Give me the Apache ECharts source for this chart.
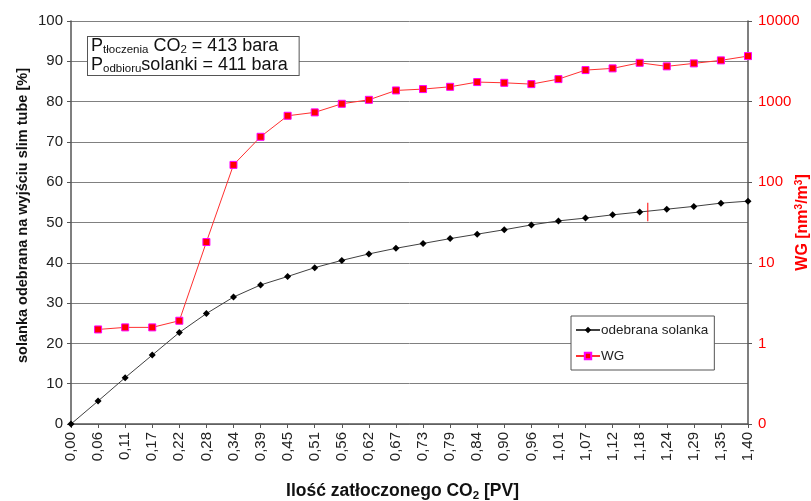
<!DOCTYPE html>
<html>
<head>
<meta charset="utf-8">
<script src="https://cdn.jsdelivr.net/npm/echarts@6/dist/echarts.min.js"></script>
<style>
html,body{margin:0;padding:0;background:#fff;}
#chart{width:811px;height:501px;}
</style>
</head>
<body>
<div id="chart"></div>
<script>
var categories = ['0,00','0,06','0,11','0,17','0,22','0,28','0,34','0,39','0,45','0,51','0,56','0,62','0,67','0,73','0,79','0,84','0,90','0,96','1,01','1,07','1,12','1,18','1,24','1,29','1,35','1,40'];
var solanka = [0, 5.7, 11.5, 17.1, 22.7, 27.4, 31.5, 34.5, 36.6, 38.8, 40.6, 42.2, 43.6, 44.8, 46.0, 47.1, 48.2, 49.4, 50.4, 51.1, 51.9, 52.6, 53.3, 54.0, 54.8, 55.3];
var wg = [null, 1.49, 1.58, 1.58, 1.91, 18.1, 164, 366, 667, 735, 940, 1052, 1375, 1430, 1527, 1747, 1711, 1648, 1901, 2460, 2583, 3030, 2737, 2980, 3247, 3670];
var redMarkX = 21.3;
var redMarkY = [50.3, 54.9];
var leftTicks = {min: 0, max: 100, interval: 10};
var rightTicks = {min: 0.1, max: 10000};

var font = 'Liberation Sans, Arial, sans-serif';
var chart = echarts.init(document.getElementById('chart'), null, {renderer: 'canvas'});
chart.setOption({
  animation: false,
  backgroundColor: '#fff',
  textStyle: {fontFamily: font},
  grid: {left: 71, right: 63, top: 21, bottom: 77, containLabel: false, outerBoundsMode: 'none'},
  xAxis: [{
    type: 'category',
    data: categories,
    boundaryGap: false,
    axisLine: {lineStyle: {color: '#555', width: 1.5}},
    axisTick: {show: true, length: 4, lineStyle: {color: '#555'}, alignWithLabel: true},
    axisLabel: {rotate: 90, fontSize: 15, color: '#222', margin: 8, fontFamily: font},
    splitLine: {show: false},
    name: '{a|Ilość zatłoczonego CO}{s|2}{a| [PV]}',
    nameLocation: 'middle',
    nameGap: 57,
    nameMoveOverlap: false,
    nameTextStyle: {
      padding: [0, 14, 0, 0],
      rich: {
        a: {fontSize: 17.5, fontWeight: 'bold', color: '#111', fontFamily: font},
        s: {fontSize: 11.5, fontWeight: 'bold', color: '#111', fontFamily: font, verticalAlign: 'bottom', padding: [9,0,0,0]}
      }
    }
  }, {
    type: 'value', min: 0, max: 25, show: false
  }],
  yAxis: [{
    type: 'value',
    min: leftTicks.min, max: leftTicks.max, interval: leftTicks.interval,
    axisLine: {show: true, lineStyle: {color: '#555', width: 1.5}},
    axisTick: {show: true, length: 4, lineStyle: {color: '#555'}},
    axisLabel: {fontSize: 15, color: '#222', margin: 8, fontFamily: font},
    splitLine: {show: true, lineStyle: {color: '#808080', width: 1}},
    name: 'solanka odebrana na wyjściu slim tube [%]',
    nameLocation: 'middle',
    nameGap: 41,
    nameMoveOverlap: false,
    nameTextStyle: {fontSize: 14.5, fontWeight: 'bold', color: '#111', fontFamily: font, padding: [0, 0, 0, 14]}
  }, {
    type: 'log',
    logBase: 10,
    min: rightTicks.min, max: rightTicks.max,
    position: 'right',
    axisLine: {show: true, lineStyle: {color: '#555', width: 1.5}},
    axisTick: {show: true, length: 4, lineStyle: {color: '#555'}},
    axisLabel: {fontSize: 15, color: '#ff0000', margin: 10, fontFamily: font,
      formatter: function (v) { return v < 1 ? '0' : String(Math.round(v)); }},
    splitLine: {show: false},
    name: '{a|WG [nm}{s|3}{a|/m}{s|3}{a|]}',
    nameLocation: 'middle',
    nameGap: 46,
    nameMoveOverlap: false,
    nameRotate: 90,
    nameTextStyle: {
      rich: {
        a: {fontSize: 16, fontWeight: 'bold', color: '#ff0000', fontFamily: font},
        s: {fontSize: 10, fontWeight: 'bold', color: '#ff0000', fontFamily: font, verticalAlign: 'top', padding: [0,0,8,0]}
      }
    }
  }],
  legend: {
    orient: 'vertical',
    left: 571, top: 316,
    itemWidth: 24, itemHeight: 8,
    itemGap: 12,
    padding: [7, 6, 7, 4],
    borderColor: '#555', borderWidth: 1,
    backgroundColor: '#fff',
    textStyle: {fontSize: 13.5, color: '#222', fontFamily: font, padding: [0, 0, 0, -4]},
    data: ['odebrana solanka', 'WG']
  },
  graphic: [{
    type: 'text',
    left: 87, top: 36,
    z: 100,
    style: {
      rich: {
        a: {fontSize: 18, fill: '#111', fontFamily: font, lineHeight: 19},
        s: {fontSize: 11.5, fill: '#111', fontFamily: font, lineHeight: 19, verticalAlign: 'bottom', padding: [6,0,0,0]}
      },
      text: '{a|P}{s|tłoczenia}{a| CO}{s|2}{a| = 413 bara}\n{a|P}{s|odbioru}{a|solanki = 411 bara}',
      backgroundColor: '#fff',
      borderColor: '#555', borderWidth: 1,
      padding: [0, 11, 0, 3]
    }
  }],
  series: [{
    name: 'odebrana solanka',
    type: 'line',
    data: solanka,
    xAxisIndex: 0, yAxisIndex: 0,
    symbol: 'diamond', symbolSize: 7,
    itemStyle: {color: '#000'},
    lineStyle: {color: '#404040', width: 1},
    z: 3
  }, {
    name: 'WG',
    type: 'line',
    data: wg,
    xAxisIndex: 0, yAxisIndex: 1,
    symbol: 'rect', symbolSize: 7,
    itemStyle: {color: '#ff0000', borderColor: '#ff00ff', borderWidth: 1},
    lineStyle: {color: '#ff3030', width: 1},
    z: 4
  }, {
    name: 'mark',
    type: 'line',
    xAxisIndex: 1, yAxisIndex: 0,
    data: [[redMarkX, redMarkY[0]], [redMarkX, redMarkY[1]]],
    symbol: 'none',
    lineStyle: {color: '#ff0000', width: 1},
    silent: true, z: 5
  }]
});
</script>
</body>
</html>
